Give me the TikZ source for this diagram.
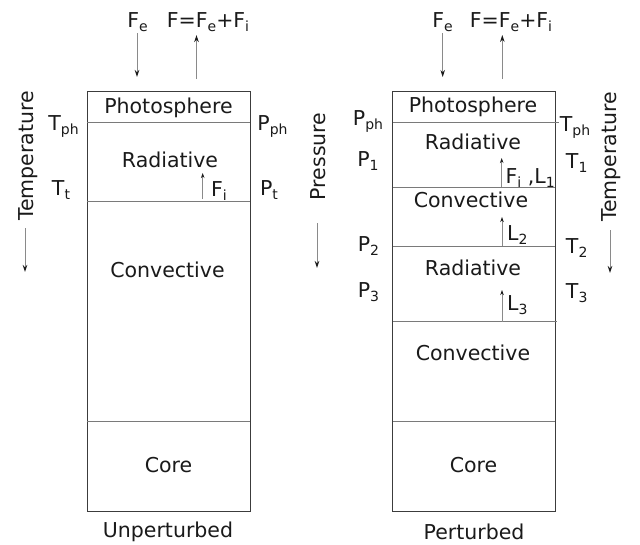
\documentclass[tikz,border=0pt]{standalone}
\usepackage{fontspec}
\setmainfont{DejaVu Sans}
\usetikzlibrary{arrows.meta}
\definecolor{txt}{HTML}{1A1A1A}
\definecolor{boxc}{HTML}{3C3C3C}
\definecolor{divc}{HTML}{7A7A7A}
\definecolor{arrc}{HTML}{8A8A8A}
\newcommand{\sbs}[1]{\raisebox{-4pt}{\fontsize{14}{14}\selectfont #1}}
\begin{document}
\begin{tikzpicture}[x=1pt,y=-1pt,
  lbl/.style={text=txt, font=\fontsize{20.5}{24}\selectfont, inner sep=0pt, anchor=base},
  vlbl/.style={lbl, rotate=90},
  boxline/.style={draw=boxc, line width=1pt},
  divline/.style={draw=divc, line width=0.9pt},
  bigarr/.style={draw=arrc, line width=1pt, -{Stealth[length=7pt,width=4.5pt,color=txt]}},
  smallarr/.style={draw=arrc, line width=1pt, -{Stealth[length=5pt,width=3.5pt,color=txt]}}]
\useasboundingbox (0,0) rectangle (640,544);
\fill[white] (0,0) rectangle (640,544);

% ---------- left (unperturbed) ----------
\draw[boxline] (87,91) rectangle (250,511.7);
\draw[divline] (87,122) -- (250,122);
\draw[divline] (87,201) -- (250,201);
\draw[divline] (87,421.7) -- (250,421.7);

\node[lbl] (lfe) at (137.5,27) {F\sbs{e}};
\node[lbl] (lf) at (208,27) {F=F\sbs{e}+F\sbs{i}};
\coordinate (lda) at (137,33); \coordinate (ldb) at (137,77);
\coordinate (lua) at (196.5,79); \coordinate (lub) at (196.5,35);
\draw[bigarr] (lda) -- (ldb);
\draw[bigarr] (lua) -- (lub);

\node[lbl] (lph) at (168.5,113) {Photosphere};
\node[lbl] (lrad) at (170,167.5) {Radiative};
\node[lbl] (lconv) at (167.5,277) {Convective};
\node[lbl] (lcore) at (168.5,472) {Core};
\node[lbl] (lun) at (168,537.5) {Unperturbed};

\coordinate (lfia) at (202.7,199); \coordinate (lfib) at (202.7,173);
\draw[smallarr] (lfia) -- (lfib);
\node[lbl, anchor=base west] (lfi) at (211,196) {F\sbs{i}};

\node[lbl] (ltph) at (63.5,130) {T\sbs{ph}};
\node[lbl] (ltt) at (61,195) {T\sbs{t}};
\node[lbl] (lpph) at (272.5,130) {P\sbs{ph}};
\node[lbl] (lpt) at (269,195) {P\sbs{t}};

\node[vlbl] (ltemp) at (33,156) {Temperature};
\coordinate (lta) at (25,228); \coordinate (ltb) at (25,272);
\draw[bigarr] (lta) -- (ltb);

\node[vlbl] (press) at (325,156.5) {Pressure};
\coordinate (pa) at (317,223); \coordinate (pb) at (317,268);
\draw[bigarr] (pa) -- (pb);

% ---------- right (perturbed) ----------
\draw[boxline] (392.7,91) rectangle (555.3,511.7);
\draw[divline] (392.7,122) -- (559,122);
\draw[divline] (392.7,187) -- (555.3,187);
\draw[divline] (392.7,246) -- (555.3,246);
\draw[divline] (392.7,321.7) -- (556.5,321.7);
\draw[divline] (392.7,421.7) -- (555.3,421.7);

\node[lbl] (rfe) at (442.5,27) {F\sbs{e}};
\node[lbl] (rf) at (511,27) {F=F\sbs{e}+F\sbs{i}};
\coordinate (rda) at (442.7,33); \coordinate (rdb) at (442.7,77);
\coordinate (rua) at (502.3,79); \coordinate (rub) at (502.3,35);
\draw[bigarr] (rda) -- (rdb);
\draw[bigarr] (rua) -- (rub);

\node[lbl] (rph) at (473,112.7) {Photosphere};
\node[lbl] (rrad) at (473,149.3) {Radiative};
\node[lbl] (rconv) at (471,207.5) {Convective};
\node[lbl] (rrad2) at (473,275.5) {Radiative};
\node[lbl] (rconv2) at (473,360) {Convective};
\node[lbl] (rcore) at (473.5,472) {Core};
\node[lbl] (rper) at (474,539.5) {Perturbed};

\coordinate (r1a) at (501.7,187); \coordinate (r1b) at (501.7,158);
\draw[smallarr] (r1a) -- (r1b);
\node[lbl, anchor=base west] (rl1) at (505.5,183) {F\sbs{i} ,L\sbs{1}};
\coordinate (r2a) at (502,246); \coordinate (r2b) at (502,217);
\draw[smallarr] (r2a) -- (r2b);
\node[lbl, anchor=base west] (rl2) at (507,240) {L\sbs{2}};
\coordinate (r3a) at (502,321.7); \coordinate (r3b) at (502,290);
\draw[smallarr] (r3a) -- (r3b);
\node[lbl, anchor=base west] (rl3) at (507,310) {L\sbs{3}};

\node[lbl] (rpph) at (368,125) {P\sbs{ph}};
\node[lbl] (rp1) at (368,166.5) {P\sbs{1}};
\node[lbl] (rp2) at (368.5,251.5) {P\sbs{2}};
\node[lbl] (rp3) at (368.5,297) {P\sbs{3}};
\node[lbl] (rtph) at (575,131) {T\sbs{ph}};
\node[lbl] (rt1) at (576.7,168) {T\sbs{1}};
\node[lbl] (rt2) at (576.7,253) {T\sbs{2}};
\node[lbl] (rt3) at (576.7,298) {T\sbs{3}};

\node[vlbl] (rtemp) at (616,157) {Temperature};
\coordinate (rta) at (610,230); \coordinate (rtb) at (610,273);
\draw[bigarr] (rta) -- (rtb);
\end{tikzpicture}
\end{document}
